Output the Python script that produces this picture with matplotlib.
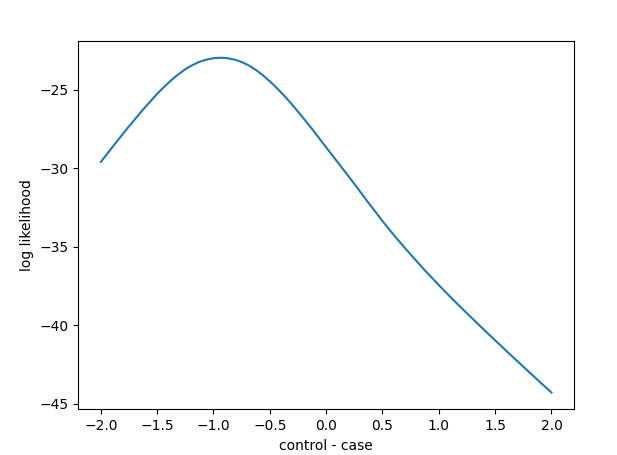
import matplotlib
matplotlib.use('agg')
import matplotlib.pyplot as plt

# values (denser around the peak)
diff = [-2.0, -1.875, -1.75, -1.625, -1.5, -1.4375, -1.375, -1.3125, -1.25, -1.1875,
        -1.125, -1.0625, -1.0, -0.9375, -0.875, -0.8125, -0.75, -0.6875, -0.625, -0.5625,
        -0.5, -0.4375, -0.375, -0.3125, -0.25, -0.1875, -0.125, 0.0, 0.125, 0.25,
        0.375, 0.5, 0.625, 0.75, 0.875, 1.0, 1.125, 1.25, 1.375, 1.5,
        1.625, 1.75, 1.875, 2.0]
loglik = [-29.6, -28.45, -27.33, -26.26, -25.26, -24.81, -24.39, -24.02, -23.69, -23.43,
          -23.22, -23.08, -22.99, -22.96, -22.99, -23.08, -23.23, -23.45, -23.73, -24.07,
          -24.46, -24.89, -25.36, -25.86, -26.39, -26.94, -27.5, -28.67, -29.83, -31.0,
          -32.2, -33.37, -34.47, -35.5, -36.5, -37.45, -38.37, -39.25, -40.12, -40.97,
          -41.82, -42.65, -43.48, -44.3]

fig = plt.figure(figsize=(6.17, 4.55), dpi=100)
ax = fig.add_axes([78.3 / 617, 1 - 409.3 / 455, (574 - 78.3) / 617, (409.3 - 41) / 455])
ax.plot(diff, loglik)
ax.set_xlabel('control - case')
ax.set_ylabel('log likelihood')
fig.savefig('out.png', dpi=100)
